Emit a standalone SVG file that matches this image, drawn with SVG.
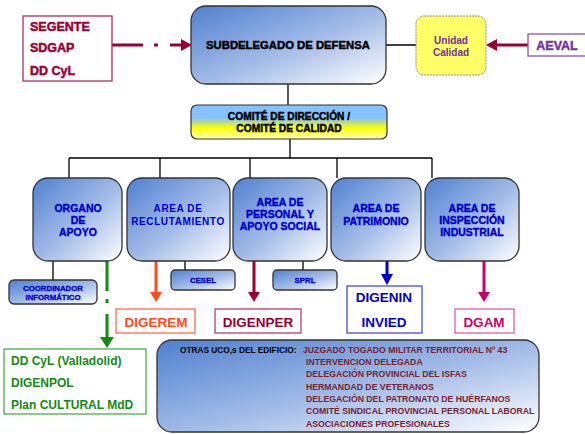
<svg xmlns="http://www.w3.org/2000/svg" width="585" height="434" viewBox="0 0 585 434">
<defs>
<linearGradient id="gBlue" x1="0" y1="0" x2="1" y2="1">
<stop offset="0" stop-color="#4f80d0"/>
<stop offset="0.55" stop-color="#a6bee8"/>
<stop offset="1" stop-color="#ffffff"/>
</linearGradient>
<linearGradient id="gCom" x1="0" y1="0" x2="0" y2="1">
<stop offset="0" stop-color="#86c2ff"/>
<stop offset="0.38" stop-color="#86c2ff"/>
<stop offset="0.68" stop-color="#ffff00"/>
<stop offset="1" stop-color="#ffffc0"/>
</linearGradient>
<marker id="aRed" markerUnits="userSpaceOnUse" markerWidth="11" markerHeight="12" viewBox="0 0 11 12" refX="1" refY="6" orient="auto"><path d="M0,0 L11,6 L0,12 z" fill="#990033"/></marker>
<marker id="aGreen" markerUnits="userSpaceOnUse" markerWidth="11" markerHeight="14" viewBox="0 0 11 14" refX="1" refY="7" orient="auto"><path d="M0,0 L11,7 L0,14 z" fill="#138a13"/></marker>
<marker id="aOrange" markerUnits="userSpaceOnUse" markerWidth="10" markerHeight="12" viewBox="0 0 10 12" refX="1" refY="6" orient="auto"><path d="M0,0 L10,6 L0,12 z" fill="#ff4a1a"/></marker>
<marker id="aMaroon" markerUnits="userSpaceOnUse" markerWidth="10" markerHeight="12" viewBox="0 0 10 12" refX="1" refY="6" orient="auto"><path d="M0,0 L10,6 L0,12 z" fill="#990033"/></marker>
<marker id="aBlue" markerUnits="userSpaceOnUse" markerWidth="11" markerHeight="12" viewBox="0 0 11 12" refX="1" refY="6" orient="auto"><path d="M0,0 L11,6 L0,12 z" fill="#0000cc"/></marker>
<marker id="aPink" markerUnits="userSpaceOnUse" markerWidth="10" markerHeight="12" viewBox="0 0 10 12" refX="1" refY="6" orient="auto"><path d="M0,0 L10,6 L0,12 z" fill="#cc0066"/></marker>
</defs>
<style>
text{font-family:"Liberation Sans",Arial,sans-serif;font-weight:bold;text-anchor:middle}
.bx{fill:url(#gBlue);stroke:#333;stroke-width:1.3}
.hv{fill:#000;stroke:#000;stroke-width:0.45}
.bt{fill:#0000cc;stroke:#0000cc;stroke-width:0.4;font-size:10.5px}
.sm{fill:#0000cc;stroke:#0000cc;stroke-width:0.35;font-size:7.8px}
.tree{fill:none;stroke:#000;stroke-width:1.3}
.lst{fill:#7a2230;font-size:8.7px;text-anchor:start}
</style>
<rect width="585" height="434" fill="#fff"/>

<g id="connectors">
<path class="tree" d="M288,84 V105 M290,139 V158 M69,158 H432 M69,158 V178 M160,158 V178 M250,158 V178 M337,158 V178 M432,158 V178 M53,261 V280 M185,261 V270 M303,261 V270 M386,45 H416"/>
<line x1="112" y1="45" x2="182" y2="45" stroke="#990033" stroke-width="3" stroke-dasharray="31 11 4 12 40" marker-end="url(#aRed)"/>
<line x1="528" y1="45" x2="496" y2="45" stroke="#990033" stroke-width="3" marker-end="url(#aRed)"/>
<line x1="107" y1="261" x2="107" y2="338" stroke="#138a13" stroke-width="3" stroke-dasharray="30 8 4 11 40" marker-end="url(#aGreen)"/>
<line x1="156" y1="261" x2="156" y2="293" stroke="#ff4a1a" stroke-width="3" marker-end="url(#aOrange)"/>
<line x1="254" y1="261" x2="254" y2="293" stroke="#990033" stroke-width="3" marker-end="url(#aMaroon)"/>
<line x1="387" y1="261" x2="387" y2="275" stroke="#0000cc" stroke-width="3" marker-end="url(#aBlue)"/>
<line x1="484" y1="261" x2="484" y2="293" stroke="#cc0066" stroke-width="3" marker-end="url(#aPink)"/>
</g>

<g id="segente">
<rect x="23" y="16" width="89" height="65" fill="#fff" stroke="#b03060" stroke-width="1.3"/>
<g style="font-size:12.5px" fill="#990033" stroke="#990033" stroke-width="0.5">
<text x="30" y="31" style="text-anchor:start">SEGENTE</text>
<text x="30" y="52" style="text-anchor:start">SDGAP</text>
<text x="30" y="75" style="text-anchor:start">DD CyL</text>
</g>
</g>

<g id="subdelegado">
<rect class="bx" x="191" y="6" width="195" height="78" rx="15"/>
<text class="hv" x="288" y="49" font-size="11.3">SUBDELEGADO DE DEFENSA</text>
</g>

<g id="unidad">
<rect x="416" y="16" width="70" height="59" rx="8" fill="#ffff66" stroke="#7a90a8" stroke-width="1" stroke-dasharray="2 1"/>
<text x="451" y="44" font-size="10" fill="#7030a0">Unidad</text>
<text x="451" y="56" font-size="10" fill="#7030a0">Calidad</text>
</g>

<g id="aeval">
<rect x="528" y="34" width="60" height="22" fill="#fff" stroke="#9050b0" stroke-width="1.3"/>
<text x="557" y="50" font-size="12.5" fill="#7030a0" stroke="#7030a0" stroke-width="0.4">AEVAL</text>
</g>

<g id="comite">
<rect x="191" y="105" width="196" height="34" rx="6" fill="url(#gCom)" stroke="#333" stroke-width="1.2"/>
<text class="hv" x="289" y="120" font-size="10.2">COMITÉ DE DIRECCIÓN /</text>
<text class="hv" x="289" y="132" font-size="10.2">COMITÉ DE CALIDAD</text>
</g>

<g id="organo">
<rect class="bx" x="33" y="178" width="89" height="83" rx="15"/>
<text class="bt" x="78" y="212">ORGANO</text>
<text class="bt" x="78" y="224">DE</text>
<text class="bt" x="78" y="236">APOYO</text>
</g>

<g id="reclutamiento">
<rect class="bx" x="127" y="178" width="103" height="83" rx="15"/>
<text x="178" y="212" font-size="10" fill="#0000cc" letter-spacing="0.6">AREA DE</text>
<text x="178" y="225" font-size="10" fill="#0000cc" letter-spacing="0.6">RECLUTAMIENTO</text>
</g>

<g id="personal">
<rect class="bx" x="233" y="178" width="94" height="83" rx="15"/>
<text class="bt" x="280" y="206">AREA DE</text>
<text class="bt" x="280" y="218">PERSONAL Y</text>
<text class="bt" x="280" y="230">APOYO SOCIAL</text>
</g>

<g id="patrimonio">
<rect class="bx" x="331" y="178" width="90" height="83" rx="15"/>
<text class="bt" x="376" y="212">AREA DE</text>
<text class="bt" x="376" y="225">PATRIMONIO</text>
</g>

<g id="inspeccion">
<rect class="bx" x="425" y="178" width="94" height="83" rx="15"/>
<text class="bt" x="472" y="212">AREA DE</text>
<text class="bt" x="472" y="224">INSPECCIÓN</text>
<text class="bt" x="472" y="236">INDUSTRIAL</text>
</g>

<g id="coordinador">
<rect class="bx" x="9" y="280" width="88" height="24" rx="5"/>
<text class="sm" x="53" y="291">COORDINADOR</text>
<text class="sm" x="53" y="300">INFORMÁTICO</text>
</g>

<g id="cesel">
<rect class="bx" x="171" y="270" width="64" height="20" rx="4"/>
<text class="sm" x="203" y="283">CESEL</text>
</g>

<g id="sprl">
<rect class="bx" x="273" y="270" width="64" height="20" rx="4"/>
<text class="sm" x="305" y="283">SPRL</text>
</g>

<g id="ddcyl">
<rect x="4" y="349" width="142" height="65" fill="#fff" stroke="#4caf50" stroke-width="1.3"/>
<g fill="#138a13">
<text x="11" y="365" font-size="12" style="text-anchor:start">DD CyL (Valladolid)</text>
<text x="11" y="387" font-size="12" style="text-anchor:start">DIGENPOL</text>
<text x="11" y="409" font-size="12" style="text-anchor:start">Plan CULTURAL MdD</text>
</g>
</g>

<g id="digerem">
<rect x="116" y="309" width="79" height="24" fill="#fff" stroke="#ff6a4a" stroke-width="1.3"/>
<text x="156" y="327" font-size="13.5" fill="#ff4a1a">DIGEREM</text>
</g>

<g id="digenper">
<rect x="215" y="309" width="86" height="24" fill="#fff" stroke="#b04070" stroke-width="1.3"/>
<text x="258" y="327" font-size="13.5" fill="#990033">DIGENPER</text>
</g>

<g id="digenin">
<rect x="347" y="286" width="75" height="47" fill="#fff" stroke="#4a4ae0" stroke-width="1.3"/>
<text x="384" y="302" font-size="13.5" fill="#0000cc">DIGENIN</text>
<text x="384" y="327" font-size="13.5" fill="#0000cc">INVIED</text>
</g>

<g id="dgam">
<rect x="455" y="309" width="59" height="24" fill="#fff" stroke="#e060a0" stroke-width="1.3"/>
<text x="484" y="327" font-size="13.5" fill="#cc0066">DGAM</text>
</g>

<g id="otras">
<rect class="bx" x="157" y="340" width="382" height="92" rx="15"/>
<text x="180" y="353" font-size="8.3" fill="#000" style="text-anchor:start">OTRAS UCO,s  DEL EDIFICIO:</text>
<text class="lst" x="303" y="353">JUZGADO TOGADO MILITAR TERRITORIAL Nº 43</text>
<text class="lst" x="306" y="365">INTERVENCION  DELEGADA</text>
<text class="lst" x="306" y="377">DELEGACIÓN  PROVINCIAL DEL ISFAS</text>
<text class="lst" x="306" y="390">HERMANDAD DE VETERANOS</text>
<text class="lst" x="306" y="402">DELEGACIÓN  DEL PATRONATO DE HUÉRFANOS</text>
<text class="lst" x="306" y="414">COMITÉ SINDICAL PROVINCIAL PERSONAL LABORAL</text>
<text class="lst" x="306" y="427">ASOCIACIONES  PROFESIONALES</text>
</g>
</svg>
